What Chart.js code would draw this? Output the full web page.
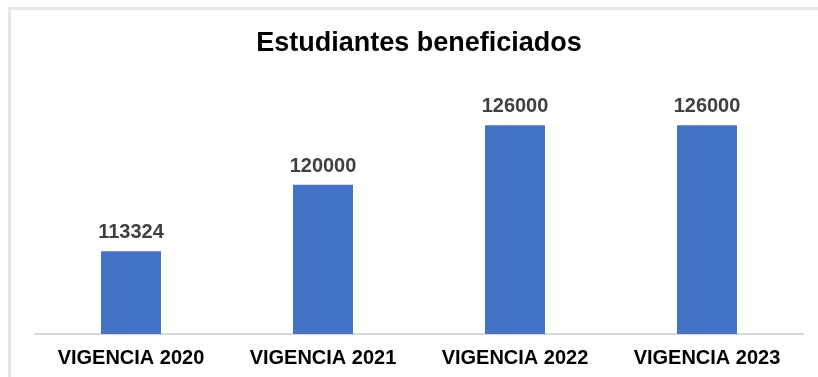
<!DOCTYPE html>
<html>
<head>
<meta charset="utf-8">
<script src="https://cdn.jsdelivr.net/npm/chart.js@4/dist/chart.umd.min.js"></script>
<style>
  html, body { margin: 0; padding: 0; background: #ffffff; }
  #wrap { position: relative; width: 818px; height: 377px; overflow: hidden; }
  #frame {
    position: absolute; left: 8px; top: 7px; right: -10px; bottom: -10px;
    border-left: 3px solid #e6e6e6; border-top: 3px solid #e6e6e6;
  }
  #chart { position: absolute; left: 0; top: 0; }
</style>
</head>
<body>
<div id="wrap">
  <div id="frame"></div>
  <canvas id="chart" width="818" height="377"></canvas>
</div>
<script>
// Students benefited per budget year
const categories = ['VIGENCIA 2020', 'VIGENCIA 2021', 'VIGENCIA 2022', 'VIGENCIA 2023'];
const students = [113324, 120000, 126000, 126000];

const FONT = "'Liberation Sans', Arial, sans-serif";

// Writes each bar's value just above it
const valueLabels = {
  id: 'valueLabels',
  afterDatasetsDraw(chart) {
    const ctx = chart.ctx;
    const meta = chart.getDatasetMeta(0);
    const data = chart.data.datasets[0].data;
    ctx.save();
    ctx.font = 'bold 20px ' + FONT;
    ctx.fillStyle = '#404040';
    ctx.textAlign = 'center';
    ctx.textBaseline = 'alphabetic';
    meta.data.forEach((bar, i) => {
      ctx.fillText(String(data[i]), bar.x, bar.y - 13);
    });
    ctx.restore();
  }
};

new Chart(document.getElementById('chart'), {
  type: 'bar',
  data: {
    labels: categories,
    datasets: [{
      data: students,
      backgroundColor: '#4472C4',
      borderWidth: 0,
      barPercentage: 0.3125,
      categoryPercentage: 1
    }]
  },
  options: {
    responsive: false,
    animation: false,
    layout: { padding: { left: 35, right: 15, top: 11, bottom: 0 } },
    plugins: {
      legend: { display: false },
      tooltip: { enabled: false },
      title: {
        display: true,
        text: 'Estudiantes beneficiados',
        color: '#000000',
        font: { family: FONT, size: 27, weight: 'bold' },
        padding: { top: 16, bottom: 26 }
      }
    },
    scales: {
      x: {
        grid: { display: false, drawTicks: false },
        border: { display: true, color: '#d9d9d9', width: 2 },
        ticks: {
          color: '#000000',
          font: { family: FONT, size: 20, weight: 'bold' },
          padding: 12,
          maxRotation: 0,
          autoSkip: false
        },
        afterFit(scale) { scale.height = 43; }
      },
      y: {
        display: false,
        min: 105000,
        max: 130000
      }
    }
  },
  plugins: [valueLabels]
});
</script>
</body>
</html>
